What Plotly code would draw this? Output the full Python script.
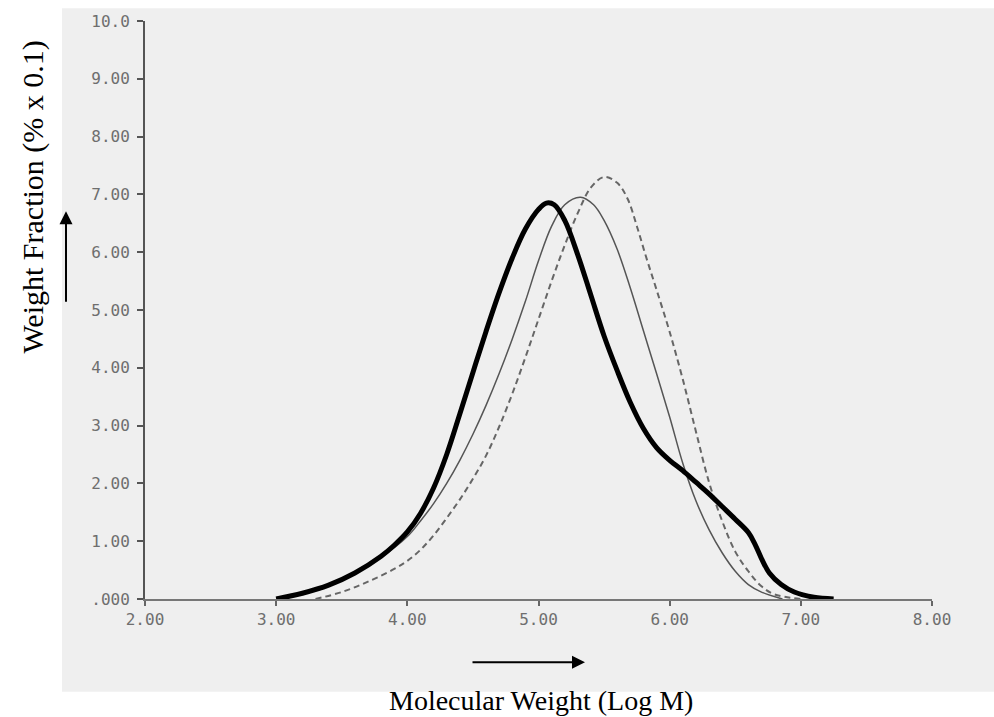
import plotly.graph_objects as go

# ---- data ----
heavy_x = [3.00, 3.20, 3.40, 3.60, 3.80, 3.90, 4.00, 4.10, 4.20, 4.30, 4.40, 4.50, 4.60, 4.70,
           4.80, 4.90, 5.00, 5.06, 5.12, 5.20, 5.30, 5.40, 5.50, 5.60, 5.70, 5.80, 5.90, 6.00,
           6.10, 6.20, 6.30, 6.40, 6.50, 6.60, 6.65, 6.70, 6.76, 6.85, 6.95, 7.10, 7.25]
heavy_y = [0.00, 0.10, 0.24, 0.45, 0.74, 0.93, 1.16, 1.48, 1.92, 2.50, 3.20, 3.92, 4.63, 5.30,
           5.90, 6.40, 6.74, 6.85, 6.82, 6.55, 5.95, 5.25, 4.55, 3.95, 3.40, 2.95, 2.62, 2.40,
           2.22, 2.02, 1.82, 1.60, 1.38, 1.15, 0.95, 0.70, 0.45, 0.25, 0.12, 0.03, 0.00]

thin_x = [3.05, 3.30, 3.60, 3.80, 4.00, 4.10, 4.20, 4.30, 4.40, 4.50, 4.60, 4.70, 4.80, 4.90,
          5.00, 5.10, 5.20, 5.32, 5.42, 5.50, 5.60, 5.70, 5.80, 5.90, 6.00, 6.10, 6.20, 6.30,
          6.40, 6.50, 6.60, 6.70, 6.86]
thin_y = [0.00, 0.15, 0.45, 0.72, 1.08, 1.35, 1.65, 2.00, 2.40, 2.85, 3.35, 3.90, 4.50, 5.15,
          5.85, 6.45, 6.82, 6.95, 6.82, 6.55, 6.05, 5.38, 4.64, 3.90, 3.15, 2.35, 1.70, 1.20,
          0.80, 0.48, 0.25, 0.12, 0.00]

dash_x = [3.30, 3.50, 3.70, 3.90, 4.00, 4.10, 4.20, 4.30, 4.40, 4.50, 4.60, 4.70, 4.80, 4.90,
          5.00, 5.10, 5.20, 5.30, 5.40, 5.50, 5.60, 5.68, 5.75, 5.82, 5.90, 6.00, 6.10, 6.20,
          6.30, 6.40, 6.50, 6.60, 6.70, 6.80, 7.00]
dash_y = [0.00, 0.12, 0.30, 0.52, 0.66, 0.85, 1.10, 1.40, 1.72, 2.08, 2.48, 2.98, 3.55, 4.18,
          4.84, 5.50, 6.12, 6.68, 7.12, 7.30, 7.20, 6.92, 6.45, 5.92, 5.35, 4.62, 3.80, 2.90,
          2.02, 1.35, 0.82, 0.48, 0.22, 0.08, 0.00]

x_ticks = [2, 3, 4, 5, 6, 7, 8]
x_ticktext = ["2.00", "3.00", "4.00", "5.00", "6.00", "7.00", "8.00"]
y_ticks = [0, 1, 2, 3, 4, 5, 6, 7, 8, 9, 10]
y_ticktext = [".000", "1.00", "2.00", "3.00", "4.00", "5.00", "6.00", "7.00", "8.00", "9.00", "10.0"]

fig = go.Figure()
fig.add_trace(go.Scatter(x=dash_x, y=dash_y, mode="lines", line_shape="spline",
                         line=dict(color="#666666", width=2, dash="6px,4px"), showlegend=False))
fig.add_trace(go.Scatter(x=thin_x, y=thin_y, mode="lines", line_shape="spline",
                         line=dict(color="#555555", width=1.5), showlegend=False))
fig.add_trace(go.Scatter(x=heavy_x, y=heavy_y, mode="lines", line_shape="spline",
                         line=dict(color="#000000", width=5), showlegend=False))

W, H = 994, 717
L, R, T, B = 145, 62, 13, 118
pw, ph = W - L - R, H - T - B


def px(x):
    return (x - L) / pw


def py(y):
    return (H - B - y) / ph


tickfont = dict(family="DejaVu Sans Mono, monospace", size=16, color="#6e6e6e")

fig.update_layout(
    width=W, height=H,
    margin=dict(l=L, r=R, t=T, b=B, pad=0),
    paper_bgcolor="white", plot_bgcolor="rgba(0,0,0,0)",
    xaxis=dict(range=[2, 8], tickvals=x_ticks, ticktext=x_ticktext, showgrid=False,
               zeroline=False, showline=True, linecolor="#777777", linewidth=2,
               ticks="outside", ticklen=5, tickwidth=2, tickcolor="#666666",
               tickfont=tickfont),
    yaxis=dict(range=[0, 10], tickvals=y_ticks, ticktext=y_ticktext, showgrid=False,
               zeroline=False, showline=True, linecolor="#555555", linewidth=2,
               ticks="outside", ticklen=6, tickwidth=2, tickcolor="#555555",
               tickfont=tickfont, ticklabelstandoff=4),
    shapes=[dict(type="rect", xref="paper", yref="paper", layer="below",
                 x0=px(62), x1=px(994), y0=py(693), y1=py(0),
                 fillcolor="#efefef", line=dict(width=0))],
    annotations=[
        dict(text="Weight Fraction (% x 0.1)", xref="paper", yref="paper",
             x=px(33), y=py(192), textangle=-90, showarrow=False,
             font=dict(family="Liberation Serif, serif", size=30, color="black"),
             xanchor="center", yanchor="middle"),
        dict(text="Molecular Weight (Log M)", xref="paper", yref="paper",
             x=px(541), y=py(702), showarrow=False,
             font=dict(family="Liberation Serif, serif", size=28, color="black"),
             xanchor="center", yanchor="middle"),
        dict(text="", xref="paper", yref="paper", x=px(585), y=py(663),
             ax=-114, ay=0, showarrow=True, arrowhead=2, arrowsize=1.3,
             arrowwidth=2, arrowcolor="black"),
        dict(text="", xref="paper", yref="paper", x=px(66), y=py(206),
             ax=0, ay=92, showarrow=True, arrowhead=2, arrowsize=1.3,
             arrowwidth=2, arrowcolor="black"),
    ],
)

fig.write_html("out.html")
